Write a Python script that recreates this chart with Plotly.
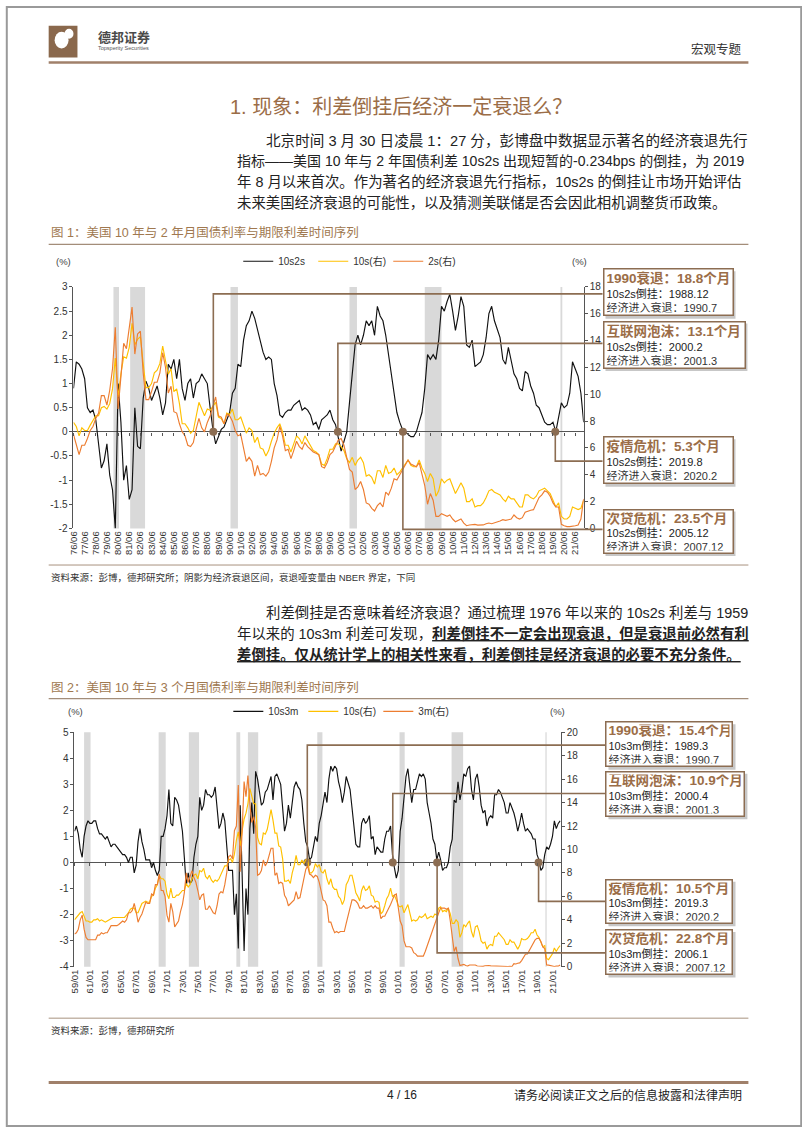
import plotly.graph_objects as go
import pandas as pd

# ---------------- DATA: chart 1 (quarterly, Jun-1976 .. Mar-2022) ----------------
c1_start = "1976-06-01"
c1_10s2s = [
    0.9, 1.45, 1.4,
    1.3, 1.1, 0.5, 0.4,
    0.45, 0.25, -0.2, -0.75,
    -0.6, -0.25, -0.9, -1.2,
    -2.0, 1.0, 0.2, -1.0,
    -0.7, -1.4, -1.2, 0.5,
    -0.3, -0.35, 0.7, 1.05,
    0.9, 0.65, 0.8, 0.95,
    0.7, 0.35, 0.6, 1.4,
    1.3, 1.5, 1.1, 1.5,
    0.9, 0.65, 1.0, 1.1,
    0.7, 1.0, 1.05, 1.2,
    1.1, 1.0, 0.5, 0.05,
    -0.25, -0.1, 0.05, 0.1,
    0.25, 0.4, 0.8, 0.9,
    1.4, 1.35, 1.9, 2.2,
    2.3, 2.5, 2.35, 2.1,
    1.9, 1.65, 1.5, 1.55,
    1.5, 1.0, 0.75, 0.35,
    0.3, 0.4, 0.45, 0.45,
    0.55, 0.6, 0.65, 0.45,
    0.5, 0.45, 0.35, 0.15,
    0.2, 0.05, 0.25, 0.3,
    0.35, 0.45, 0.25, 0.15,
    -0.15, -0.4, -0.2, 0.0,
    0.6, 1.2, 1.8, 2.0,
    1.8, 2.0, 2.3, 2.2,
    2.3, 2.0, 2.6, 2.4,
    2.3, 2.0, 1.6, 1.2,
    0.8, 0.4, 0.2, 0.05,
    0.0, -0.05, -0.1, -0.1,
    0.0, 0.2, 0.4, 0.9,
    1.6, 1.5, 1.6, 1.5,
    1.9, 2.6, 2.5, 2.7,
    2.85, 2.5, 2.1, 2.4,
    2.8, 2.6, 1.8, 1.75,
    1.9, 1.35, 1.4, 1.45,
    1.6, 1.95, 2.45, 2.6,
    2.3, 2.1, 1.95, 1.5,
    1.4, 1.75, 1.45, 1.2,
    1.1, 0.9, 0.85, 1.25,
    1.2, 0.95, 0.8, 0.55,
    0.5, 0.35, 0.2, 0.15,
    0.15, 0.2, 0.0, 0.3,
    0.6, 0.5, 0.55, 0.8,
    1.45, 1.3, 1.15, 0.8,
    0.2,
]
c1_10s = [
    7.9, 7.6, 6.9,
    7.5, 7.3, 7.3, 7.7,
    8.1, 8.4, 8.4, 9.0,
    9.1, 8.9, 9.3, 10.4,
    12.7, 9.8, 11.5, 12.8,
    12.7, 13.5, 15.3, 13.7,
    14.1, 14.3, 12.3, 10.5,
    10.5, 10.8, 11.6, 11.8,
    12.3, 13.6, 12.5, 11.5,
    11.9, 10.2, 10.4, 9.3,
    7.8, 7.8, 7.5, 7.1,
    7.3, 8.4, 9.4, 8.9,
    8.4, 8.9, 8.8, 9.1,
    9.4, 8.3, 8.2, 7.8,
    8.6, 8.5, 8.9, 8.1,
    8.1, 8.3, 7.7, 7.1,
    7.5, 7.3, 6.4, 6.8,
    6.0, 5.9, 5.4, 5.8,
    6.5, 7.1, 7.5, 7.8,
    7.2, 6.2, 6.2, 5.7,
    6.3, 6.9, 6.7, 6.3,
    6.9, 6.5, 6.2, 5.8,
    5.7, 5.5, 4.8, 4.7,
    5.2, 5.9, 5.9, 6.3,
    6.3, 6.1, 5.8, 5.2,
    4.9, 5.3, 4.7, 5.1,
    5.3, 4.9, 3.9, 4.0,
    3.8, 3.3, 4.3, 4.3,
    3.8, 4.7, 4.1, 4.2,
    4.5, 4.0, 4.2, 4.5,
    4.7, 5.1, 4.7, 4.6,
    4.6, 5.1, 4.5, 4.1,
    3.5, 4.1, 3.7, 2.4,
    2.8, 3.7, 3.4, 3.6,
    3.7, 3.2, 2.6, 3.0,
    3.4, 3.0, 2.0, 2.0,
    2.2, 1.6, 1.7, 1.7,
    1.9, 2.3, 2.8, 2.9,
    2.7, 2.6, 2.5, 2.2,
    2.0, 2.4, 2.2, 2.2,
    1.9, 1.6, 1.6, 2.5,
    2.5, 2.3, 2.2, 2.4,
    2.8, 2.9, 3.0, 2.8,
    2.6, 2.1, 1.6, 1.9,
    0.9, 0.7, 0.7, 0.9,
    1.6, 1.5, 1.4, 1.5,
    2.1,
]
c1_2s = [
    7.0, 6.2, 5.5,
    6.2, 6.2, 6.7, 7.3,
    7.6, 8.2, 8.6, 9.9,
    9.9, 9.2, 10.3, 11.9,
    15.0, 8.9, 11.3, 13.8,
    13.4, 15.0, 16.5, 13.0,
    14.5, 14.7, 11.6, 9.6,
    9.6, 10.2, 10.9, 10.9,
    11.6, 13.1, 12.0, 10.1,
    10.6, 8.7, 8.6, 7.8,
    7.2, 6.9, 6.2, 6.1,
    6.4, 7.4, 8.2, 7.5,
    7.2, 7.9, 8.4, 9.1,
    9.8, 8.4, 8.3, 7.8,
    8.5, 8.4, 8.0, 7.3,
    6.9, 7.0, 6.0, 5.0,
    5.3, 5.0, 3.9, 4.7,
    4.0, 4.1, 3.9, 4.2,
    5.0, 6.0, 6.6, 7.6,
    6.9, 5.8, 5.9, 5.2,
    5.8, 6.5, 6.1, 5.9,
    6.4, 6.1, 5.9, 5.7,
    5.6, 5.5, 4.6, 4.5,
    4.9, 5.5, 5.7, 6.2,
    6.6, 6.7, 6.2, 5.3,
    4.4, 4.2, 2.9, 3.1,
    3.5, 2.9, 1.9, 1.8,
    1.5, 1.3, 1.7, 1.9,
    1.6, 2.7, 2.5, 3.0,
    3.7, 3.6, 4.0, 4.4,
    4.7, 5.1, 4.8, 4.7,
    4.6, 4.9, 4.1, 3.2,
    1.8, 2.6, 2.1, 0.9,
    0.9, 1.1, 1.0, 0.9,
    1.0, 0.7, 0.5, 0.6,
    0.7, 0.4, 0.2, 0.25,
    0.3, 0.3, 0.25, 0.26,
    0.26, 0.35, 0.4, 0.35,
    0.4, 0.45, 0.55, 0.65,
    0.6, 0.65, 0.7, 1.0,
    0.8, 0.7, 0.8, 1.2,
    1.3, 1.35, 1.4, 1.8,
    2.3, 2.5, 2.8, 2.7,
    2.4, 1.9, 1.6, 1.6,
    0.3, 0.2, 0.13, 0.13,
    0.15, 0.2, 0.25, 0.7,
    2.2,
]
c1_recessions = [("1980-01-01", "1980-07-01"), ("1981-07-01", "1982-11-01"),
                 ("1990-07-01", "1991-03-01"), ("2001-03-01", "2001-11-01"),
                 ("2007-12-01", "2009-06-01"), ("2020-02-01", "2020-04-01")]
c1_tick_vals = [f"{y}-06-01" for y in range(1976, 2022)]
c1_tick_text = [f"{y % 100:02d}/06" for y in range(1976, 2022)]
c1_events = ["1990衰退", "互联网泡沫", "疫情危机", "次贷危机"]
c1_lead_months = ["18.8", "13.1", "5.3", "23.5"]
c1_invert_dates = ["1988-12-15", "2000-02-15", "2019-08-15", "2005-12-15"]
c1_invert_labels = ["1988.12", "2000.2", "2019.8", "2005.12"]
c1_recess_labels = ["1990.7", "2001.3", "2020.2", "2007.12"]

# ---------------- DATA: chart 2 (quarterly, Jan-1959 .. Jan-2022) ----------------
c2_start = "1959-01-01"
c2_10s3m = [
    1.2, 1.4, 1.1, 0.5,
    0.2, 1.0, 1.4, 1.6,
    1.5, 1.5, 1.6, 1.6,
    1.3, 1.1, 1.1, 1.0,
    0.9, 1.0, 0.8, 0.6,
    0.7, 0.7, 0.6, 0.5,
    0.4, 0.3, 0.3, 0.2,
    0.0, 0.2, 0.2, -0.4,
    -0.1, 0.8, 1.3, 0.8,
    0.5, 0.1, 0.1, 0.1,
    -0.2, 0.0, -0.3, -0.5,
    -0.3, 1.0, 1.0, 1.3,
    1.8, 2.8, 1.5, 1.4,
    2.5, 2.4, 2.2, 1.6,
    1.2, 0.2, -0.9, -0.4,
    -0.8, -0.7, 0.2, 0.7,
    1.0, 2.5, 2.0, 2.2,
    2.8, 2.6, 2.6, 2.5,
    2.6, 2.9, 2.1, 1.3,
    1.5, 1.9, 1.6, 0.6,
    -0.3, -0.3, -0.3, -2.0,
    -1.2, -3.3, 2.2, -0.5,
    -3.4, -1.0, -2.0, 1.3,
    2.3, 1.1, 3.5, 3.2,
    2.6, 2.2, 2.3, 2.7,
    2.8, 3.1, 3.3, 2.4,
    3.3, 3.4, 3.2, 3.0,
    2.1, 1.2, 1.5, 2.2,
    1.7, 2.4, 2.9, 3.1,
    2.9, 2.8, 2.4, 1.5,
    0.8, 0.6, 0.1, 0.2,
    0.6, 1.0, 0.8, 1.5,
    1.8, 2.3, 2.7, 2.3,
    3.2, 3.7, 3.5, 3.7,
    3.6, 3.1, 2.8, 2.3,
    2.7, 3.3, 3.0, 2.8,
    2.1, 1.4, 0.7, 0.6,
    0.6, 1.5, 1.7, 1.5,
    1.6, 1.8, 0.9, 1.0,
    0.3, 0.6, 0.5, 0.4,
    0.4, 0.9, 1.2, 1.2,
    1.4, 0.3, -0.2, -0.6,
    -0.3, 1.2, 1.7, 2.4,
    3.3, 3.6, 2.9, 2.3,
    2.8, 2.8, 3.1, 3.4,
    3.3, 3.4, 3.2, 2.3,
    1.9, 1.5, 0.9, 0.7,
    0.1, 0.4, 0.1, -0.3,
    -0.2, -0.2, 0.0, 0.6,
    0.9, 2.4, 2.3, 3.1,
    2.4, 2.8, 3.4, 3.3,
    3.6, 3.7, 2.8, 2.4,
    3.2, 3.4, 2.9, 2.2,
    1.9, 2.0, 1.4, 1.7,
    1.8, 1.7, 2.6, 2.6,
    2.8, 2.7, 2.5, 2.3,
    1.9, 1.9, 2.3, 2.1,
    1.9, 1.6, 1.2, 1.5,
    1.9, 1.5, 1.2, 1.3,
    1.2, 1.1, 0.9, 0.9,
    0.3, 0.1, -0.3, -0.2,
    0.3, 0.6, 0.5, 0.7,
    1.0, 1.6, 1.3, 1.5,
    1.6,
]
c2_10s = [
    4.0, 4.2, 4.4, 4.6,
    4.7, 4.3, 3.9, 3.9,
    3.8, 3.8, 4.0, 4.0,
    4.1, 3.9, 4.0, 3.9,
    3.8, 3.9, 4.0, 4.1,
    4.2, 4.2, 4.2, 4.2,
    4.2, 4.2, 4.2, 4.4,
    4.6, 4.9, 5.0, 5.0,
    4.6, 4.6, 5.0, 5.4,
    5.5, 5.6, 5.5, 5.5,
    6.0, 6.1, 6.7, 7.0,
    7.8, 7.5, 7.5, 7.3,
    6.2, 5.8, 6.7, 5.9,
    5.9, 6.1, 6.1, 6.3,
    6.5, 6.5, 7.1, 6.8,
    7.0, 7.5, 7.8, 7.9,
    7.5, 8.2, 8.1, 8.4,
    7.7, 7.5, 7.8, 7.4,
    7.2, 7.4, 7.3, 7.5,
    7.9, 8.2, 8.6, 8.6,
    9.1, 9.2, 8.9, 9.6,
    10.8, 11.5, 10.3, 11.6,
    12.6, 13.1, 13.9, 15.2,
    14.6, 13.9, 13.9, 11.0,
    10.5, 10.4, 11.4, 11.3,
    11.7, 12.6, 13.4, 12.5,
    11.4, 11.4, 10.3, 10.2,
    9.2, 7.3, 7.3, 7.4,
    7.1, 8.0, 8.6, 9.5,
    8.7, 8.7, 9.1, 8.8,
    9.1, 9.2, 8.0, 8.0,
    8.2, 8.8, 8.5, 8.7,
    8.1, 8.0, 8.3, 7.5,
    7.0, 7.5, 6.8, 6.6,
    6.6, 6.0, 5.8, 5.3,
    5.7, 7.0, 7.3, 7.8,
    7.8, 7.1, 6.3, 6.0,
    5.6, 6.5, 6.9, 6.5,
    6.6, 6.9, 6.1, 6.0,
    5.5, 5.6, 5.5, 4.5,
    4.7, 5.2, 5.8, 6.1,
    6.7, 6.0, 6.1, 5.7,
    5.2, 5.1, 5.2, 4.6,
    5.0, 5.3, 4.6, 3.9,
    4.0, 3.9, 4.0, 4.3,
    4.2, 4.3, 4.5, 4.1,
    4.2, 4.3, 4.2, 4.5,
    4.4, 5.0, 5.1, 4.7,
    4.8, 4.7, 5.0, 4.5,
    3.7, 3.7, 4.0, 3.8,
    2.5, 2.9, 3.6, 3.4,
    3.7, 3.9, 3.0, 2.5,
    3.4, 3.5, 3.0, 2.2,
    2.0, 2.1, 1.5, 1.8,
    1.9, 1.8, 2.6, 2.6,
    2.9, 2.7, 2.6, 2.3,
    1.9, 1.9, 2.3, 2.1,
    2.1, 1.8, 1.5, 1.8,
    2.4, 2.3, 2.3, 2.4,
    2.6, 2.9, 2.9, 3.2,
    2.7, 2.5, 2.1, 1.7,
    1.8, 0.7, 0.6, 0.8,
    1.1, 1.6, 1.3, 1.6,
    1.8,
]
c2_3m = [
    2.8, 2.9, 3.2, 4.0,
    4.4, 3.2, 2.5, 2.3,
    2.3, 2.3, 2.3, 2.3,
    2.7, 2.7, 2.9, 2.8,
    2.9, 2.9, 3.2, 3.5,
    3.5, 3.5, 3.5, 3.6,
    3.8, 3.9, 3.8, 4.0,
    4.6, 4.6, 4.8, 5.4,
    4.7, 3.8, 4.2, 4.5,
    5.0, 5.5, 5.4, 5.4,
    6.2, 6.1, 7.0, 7.0,
    7.9, 6.5, 6.5, 6.0,
    4.4, 3.8, 5.4, 4.7,
    3.4, 3.7, 3.9, 4.7,
    5.3, 6.3, 8.0, 7.2,
    7.8, 8.2, 7.6, 7.2,
    6.5, 5.7, 6.1, 6.2,
    4.9, 4.9, 5.2, 4.9,
    4.6, 4.5, 5.2, 6.2,
    6.4, 6.3, 7.0, 8.0,
    9.4, 9.5, 9.2, 11.6,
    12.0, 15.5, 8.1, 11.6,
    15.8, 14.5, 16.3, 13.9,
    12.3, 12.8, 11.9, 7.8,
    7.9, 8.2, 9.1, 8.6,
    8.9, 9.5, 10.1, 10.1,
    7.8, 8.0, 7.1, 7.2,
    7.1, 6.1, 5.8, 5.2,
    5.4, 5.6, 5.7, 6.4,
    5.8, 5.9, 6.7, 7.3,
    8.3, 8.6, 7.9, 7.8,
    7.6, 7.8, 7.7, 7.2,
    6.3, 5.7, 5.6, 5.2,
    3.8, 3.8, 3.3, 2.9,
    3.0, 2.9, 3.0, 3.0,
    3.0, 3.7, 4.3, 5.0,
    5.7, 5.7, 5.6, 5.4,
    5.0, 5.0, 5.2, 5.0,
    5.0, 5.1, 5.2, 5.0,
    5.2, 5.0, 5.0, 4.1,
    4.3, 4.3, 4.6, 4.9,
    5.3, 5.7, 6.1, 6.2,
    5.2, 3.9, 3.5, 2.2,
    1.7, 1.7, 1.7, 1.6,
    1.2, 1.1, 0.9, 0.9,
    0.9, 0.9, 1.3, 1.8,
    2.3, 2.8, 3.3, 3.8,
    4.3, 4.6, 5.0, 5.0,
    5.0, 4.9, 5.0, 3.9,
    2.8, 1.3, 1.7, 0.7,
    0.1, 0.15, 0.2, 0.1,
    0.06, 0.15, 0.16, 0.14,
    0.15, 0.06, 0.05, 0.02,
    0.03, 0.08, 0.1, 0.1,
    0.07, 0.06, 0.04, 0.05,
    0.04, 0.03, 0.03, 0.02,
    0.03, 0.02, 0.03, 0.02,
    0.26, 0.23, 0.3, 0.33,
    0.52, 0.8, 1.07, 1.09,
    1.41, 1.76, 1.96, 2.29,
    2.42, 2.43, 2.15, 1.69,
    1.55, 0.14, 0.13, 0.09,
    0.08, 0.02, 0.05, 0.05,
    0.15,
]
c2_recessions = [("1960-04-01", "1961-02-01"), ("1969-12-01", "1970-11-01"),
                 ("1973-11-01", "1975-03-01"), ("1980-01-01", "1980-07-01"),
                 ("1981-07-01", "1982-11-01"), ("1990-07-01", "1991-03-01"),
                 ("2001-03-01", "2001-11-01"), ("2007-12-01", "2009-06-01"),
                 ("2020-02-01", "2020-04-01")]
c2_tick_vals = [f"{y}-01-01" for y in range(1959, 2022, 2)]
c2_tick_text = [f"{y % 100:02d}/01" for y in range(1959, 2022, 2)]
c2_events = ["1990衰退", "互联网泡沫", "疫情危机", "次贷危机"]
c2_lead_months = ["15.4", "10.9", "10.5", "22.8"]
c2_invert_dates = ["1989-03-15", "2000-04-15", "2019-03-15", "2006-01-15"]
c2_invert_labels = ["1989.3", "2000.4", "2019.3", "2006.1"]
c2_recess_labels = ["1990.7", "2001.3", "2020.2", "2007.12"]

# ---------------- STYLE / LAYOUT ----------------
W, H = 802, 1133
OX = -4
FONT = "Liberation Sans, Noto Sans CJK SC, sans-serif"
CJK = "Noto Sans CJK SC, sans-serif"
BROWN = "#9b6d47"
LINEBROWN = "#8c6d52"
BLACK = "#111111"
YELLOW = "#ffc000"
ORANGE = "#ed7d31"
GREY = "#d9d9d9"


def px(x):
    return (x + OX) / W


def py(y):
    return 1 - y / H


def yfrac(t):
    t = pd.Timestamp(t)
    return t.year + (t.dayofyear - 1) / 365.25


def date_to_px(d, rng, dom_px):
    a, b = yfrac(rng[0]), yfrac(rng[1])
    return dom_px[0] + (yfrac(d) - a) / (b - a) * (dom_px[1] - dom_px[0])


c1_dates = pd.date_range(c1_start, periods=len(c1_10s), freq="3MS")
c2_dates = pd.date_range(c2_start, periods=len(c2_10s), freq="3MS")

# chart geometry (pixels)
C1_X = (72, 586)
C1_Y = (284, 528)          # top, bottom
C1_RANGE = ["1976-06-01", "2022-03-01"]
C2_X = (73, 563)
C2_Y = (734, 971)
C2_RANGE = ["1959-01-01", "2022-02-01"]

fig = go.Figure()
LW = 1.15

# chart 1 traces
fig.add_trace(go.Scatter(x=c1_dates, y=c1_10s2s, name="10s2s", mode="lines",
                         line=dict(color=BLACK, width=LW), xaxis="x", yaxis="y", legend="legend"))
fig.add_trace(go.Scatter(x=c1_dates, y=c1_10s, name="10s(右)", mode="lines",
                         line=dict(color=YELLOW, width=LW), xaxis="x", yaxis="y2", legend="legend"))
fig.add_trace(go.Scatter(x=c1_dates, y=c1_2s, name="2s(右)", mode="lines",
                         line=dict(color=ORANGE, width=LW), xaxis="x", yaxis="y2", legend="legend"))
fig.add_trace(go.Scatter(x=[c1_dates[0]], y=[0], mode="markers", marker=dict(opacity=0),
                         showlegend=False, hoverinfo="skip", xaxis="x3", yaxis="y"))
fig.add_trace(go.Scatter(x=pd.to_datetime(c1_invert_dates), y=[0] * len(c1_invert_dates), mode="markers",
                         marker=dict(color=LINEBROWN, size=8), showlegend=False, cliponaxis=False,
                         xaxis="x", yaxis="y"))

# chart 2 traces
fig.add_trace(go.Scatter(x=c2_dates, y=c2_10s3m, name="10s3m", mode="lines",
                         line=dict(color=BLACK, width=LW), xaxis="x2", yaxis="y3", legend="legend2"))
fig.add_trace(go.Scatter(x=c2_dates, y=c2_10s, name="10s(右)", mode="lines",
                         line=dict(color=YELLOW, width=LW), xaxis="x2", yaxis="y4", legend="legend2"))
fig.add_trace(go.Scatter(x=c2_dates, y=c2_3m, name="3m(右)", mode="lines",
                         line=dict(color=ORANGE, width=LW), xaxis="x2", yaxis="y4", legend="legend2"))
fig.add_trace(go.Scatter(x=[c2_dates[0]], y=[0], mode="markers", marker=dict(opacity=0),
                         showlegend=False, hoverinfo="skip", xaxis="x4", yaxis="y3"))
fig.add_trace(go.Scatter(x=pd.to_datetime(c2_invert_dates), y=[0] * len(c2_invert_dates), mode="markers",
                         marker=dict(color=LINEBROWN, size=8), showlegend=False, cliponaxis=False,
                         xaxis="x2", yaxis="y3"))

tickfont = dict(family=FONT, size=10, color="#333")
c1_left = [-2, -1.5, -1, -0.5, 0, 0.5, 1, 1.5, 2, 2.5, 3]
c1_right = list(range(0, 19, 2))
c2_left = list(range(-4, 6))
c2_right = list(range(0, 21, 2))

c1_dom_y = [py(C1_Y[1]), py(C1_Y[0])]
c2_dom_y = [py(C2_Y[1]), py(C2_Y[0])]
c1_zero_pos = c1_dom_y[0] + (0 - c1_left[0]) / (c1_left[-1] - c1_left[0]) * (c1_dom_y[1] - c1_dom_y[0])
c2_zero_pos = c2_dom_y[0] + (0 - c2_left[0]) / (c2_left[-1] - c2_left[0]) * (c2_dom_y[1] - c2_dom_y[0])

axis_common = dict(showgrid=False, ticks="outside", ticklen=3, tickcolor="#555",
                   linecolor="#555", linewidth=1, tickfont=tickfont)
legend_common = dict(orientation="h", xanchor="left", yanchor="middle",
                     font=dict(family=FONT, size=10, color="#333"), bgcolor="rgba(0,0,0,0)",
                     itemwidth=30, entrywidth=30, entrywidthmode="pixels")

fig.update_layout(
    xaxis=dict(domain=[px(C1_X[0]), px(C1_X[1])], range=C1_RANGE, anchor="y", showgrid=False,
               showline=False, ticks="", tickvals=c1_tick_vals, ticktext=c1_tick_text, tickangle=-90,
               tickfont=dict(family=FONT, size=9.5, color="#333"), zeroline=False),
    yaxis=dict(domain=c1_dom_y, range=[c1_left[0], c1_left[-1]], tickvals=c1_left,
               ticktext=[f"{v:g}" for v in c1_left], showline=True, zeroline=True,
               zerolinecolor="#555", zerolinewidth=1, anchor="x", **axis_common),
    yaxis2=dict(range=[c1_right[0], c1_right[-1]], tickvals=c1_right, overlaying="y", side="right",
                anchor="x", showline=True, zeroline=False, **axis_common),
    xaxis3=dict(overlaying="x", anchor="free", position=c1_zero_pos, range=C1_RANGE, tickvals=c1_tick_vals,
                ticks="outside", ticklen=3, tickcolor="#555", showticklabels=False, showline=False,
                showgrid=False, zeroline=False),
    xaxis2=dict(domain=[px(C2_X[0]), px(C2_X[1])], range=C2_RANGE, anchor="y3", showgrid=False,
                showline=False, ticks="", tickvals=c2_tick_vals, ticktext=c2_tick_text, tickangle=-90,
                tickfont=dict(family=FONT, size=9.5, color="#333"), zeroline=False),
    yaxis3=dict(domain=c2_dom_y, range=[c2_left[0], c2_left[-1]], tickvals=c2_left,
                ticktext=[f"{v:g}" for v in c2_left], showline=True, zeroline=True,
                zerolinecolor="#555", zerolinewidth=1, anchor="x2", **axis_common),
    yaxis4=dict(range=[c2_right[0], c2_right[-1]], tickvals=c2_right, overlaying="y3", side="right",
                anchor="x2", showline=True, zeroline=False, **axis_common),
    xaxis4=dict(overlaying="x2", anchor="free", position=c2_zero_pos, range=C2_RANGE, tickvals=c2_tick_vals,
                ticks="outside", ticklen=3, tickcolor="#555", showticklabels=False, showline=False,
                showgrid=False, zeroline=False),
    legend=dict(x=px(238), y=py(258), **legend_common),
    legend2=dict(x=px(228), y=py(713), **legend_common),
    width=W, height=H, autosize=False, margin=dict(l=0, r=0, t=0, b=0),
    paper_bgcolor="white", plot_bgcolor="white", showlegend=True,
)

shapes = []
annotations = []

# recession shading
for a, b in c1_recessions:
    shapes.append(dict(type="rect", xref="x", yref="y domain", x0=a, x1=b, y0=0, y1=1,
                       fillcolor=GREY, line=dict(width=0), layer="below"))
for a, b in c2_recessions:
    shapes.append(dict(type="rect", xref="x2", yref="y3 domain", x0=a, x1=b, y0=0, y1=1,
                       fillcolor=GREY, line=dict(width=0), layer="below"))


def hline(x0, x1, y, color, width):
    shapes.append(dict(type="line", xref="paper", yref="paper", x0=px(x0), x1=px(x1),
                       y0=py(y), y1=py(y), line=dict(color=color, width=width)))


def txt(x, y, s, size=12, color="#222", anchor="left", family=FONT):
    annotations.append(dict(x=px(x), y=py(y), xref="paper", yref="paper", text=s, showarrow=False,
                            xanchor=anchor, yanchor="middle", font=dict(size=size, color=color, family=family)))


# page frame
shapes.append(dict(type="rect", xref="paper", yref="paper", x0=0.001, x1=0.999, y0=0.001, y1=0.999,
                   line=dict(color="#9a9a9a", width=2)))

# header
shapes.append(dict(type="rect", xref="paper", yref="paper", x0=px(47), x1=px(76), y0=py(52), y1=py(20),
                   fillcolor="#8a684c", line=dict(width=0)))
shapes.append(dict(type="circle", xref="paper", yref="paper", x0=px(53), x1=px(67), y0=py(43), y1=py(26),
                   fillcolor="white", line=dict(width=0)))
shapes.append(dict(type="circle", xref="paper", yref="paper", x0=px(63), x1=px(72), y0=py(33), y1=py(23),
                   fillcolor="white", line=dict(width=0)))
txt(95, 31, "<b>德邦证券</b>", 13, "#4a4a4a", family=CJK)
txt(95, 42, "Topsperity Securities", 5.5, "#555")
txt(748, 43, "宏观专题", 12.5, "#333", anchor="right", family=CJK)
hline(47, 752, 57, "#a0806a", 2.5)

# section title
txt(402, 102, "1. 现象：利差倒挂后经济一定衰退么？", 20, BROWN, anchor="center")

# paragraph 1
para1 = [
    (264, 14.6, "北京时间 3 月 30 日凌晨 1：27 分，彭博盘中数据显示著名的经济衰退先行"),
    (235, 14.0, "指标——美国 10 年与 2 年国债利差 10s2s 出现短暂的-0.234bps 的倒挂，为 2019"),
    (235, 14.4, "年 8 月以来首次。作为著名的经济衰退先行指标，10s2s 的倒挂让市场开始评估"),
    (235, 14.4, "未来美国经济衰退的可能性，以及猜测美联储是否会因此相机调整货币政策。"),
]
for i, (x, sz, s) in enumerate(para1):
    txt(x, 136 + i * 21, s, sz, "#222")

# figure 1 title
txt(47, 229, "图 1：美国 10 年与 2 年月国债利率与期限利差时间序列", 12.5, "#a0784f")
hline(47, 752, 241, "#a38d79", 1.3)
txt(62, 258, "(%)", 9.5, "#444", anchor="center")
txt(582, 258, "(%)", 9.5, "#444", anchor="center")
hline(47, 752, 565, "#a8927f", 1)
txt(47, 578, "资料来源：彭博，德邦研究所；阴影为经济衰退区间，衰退哑变量由 NBER 界定，下同", 9.5, "#333")

# paragraph 2
txt(264, 613, "利差倒挂是否意味着经济衰退？通过梳理 1976 年以来的 10s2s 利差与 1959", 14.4, "#222")
txt(235, 634, "年以来的 10s3m 利差可发现，<b><u>利差倒挂不一定会出现衰退，但是衰退前必然有利</u></b>", 14.4, "#222")
txt(235, 655, "<b><u>差倒挂。仅从统计学上的相关性来看，利差倒挂是经济衰退的必要不充分条件。</u></b>", 14.4, "#222")

# figure 2 title
txt(47, 689, "图 2：美国 10 年与 3 个月国债利率与期限利差时间序列", 12.5, "#a0784f")
hline(47, 752, 700, "#a38d79", 1.3)
txt(74, 713, "(%)", 9.5, "#444", anchor="center")
txt(560, 713, "(%)", 9.5, "#444", anchor="center")
hline(47, 752, 1023, "#a8927f", 1)
txt(47, 1035, "资料来源：彭博，德邦研究所", 9.5, "#333")

# footer
hline(47, 752, 1088, "#a0806a", 3)
txt(403, 1101, "4 / 16", 12, "#222", anchor="center")
txt(514, 1101, "请务必阅读正文之后的信息披露和法律声明", 12, "#222")

# connectors + boxes
c1_conn_y = [291, 341, 460, 529]
c1_boxes = [(605, 265, 736, 313), (605, 318, 748, 366), (605, 435, 736, 483), (605, 508, 736, 553)]
c2_conn_y = [747, 796, 905, 957]
c2_boxes = [(608, 723, 736, 769), (608, 773, 748, 819), (608, 882, 736, 927), (608, 933, 736, 979)]


def draw_group(dates, conn_y, boxes, rng, dom_px, zero_pos, events, months, inv_lbl, rec_lbl, tag):
    zero_px = (1 - zero_pos) * H
    for d, cy, (bx0, by0, bx1, by1), ev, mo, il, rl in zip(dates, conn_y, boxes, events, months, inv_lbl, rec_lbl):
        xd = date_to_px(d, rng, dom_px)
        shapes.append(dict(type="path", xref="paper", yref="paper",
                           path=f"M {px(xd)},{py(zero_px)} L {px(xd)},{py(cy)} L {px(bx0)},{py(cy)}",
                           line=dict(color=LINEBROWN, width=1.6), layer="above"))
        shapes.append(dict(type="rect", xref="paper", yref="paper", x0=px(bx0 + 3), x1=px(bx1 + 3),
                           y0=py(by1 + 3), y1=py(by0 + 3), fillcolor="rgba(0,0,0,0.22)",
                           line=dict(width=0), layer="above"))
        pad = 2
        bw = 1.5
        text = (f"<span style='font-size:13.5px;color:{BROWN}'><b>{ev}：{mo}个月</b></span><br>"
                f"<span style='color:#222'>{tag}倒挂：{il}</span><br>"
                f"<span style='color:#333'>经济进入衰退：{rl}</span>")
        annotations.append(dict(x=px(bx0), y=py(by0), xref="paper", yref="paper", text=text,
                                showarrow=False, xanchor="left", yanchor="top", align="left", valign="middle",
                                width=(bx1 - bx0) - 2 * pad - 2 * bw, height=(by1 - by0) - 2 * pad - 2 * bw,
                                bgcolor="white", bordercolor=LINEBROWN, borderwidth=bw, borderpad=pad,
                                font=dict(family=FONT, size=11, color="#222")))


draw_group(c1_invert_dates, c1_conn_y, c1_boxes, C1_RANGE, C1_X, c1_zero_pos,
           c1_events, c1_lead_months, c1_invert_labels, c1_recess_labels, "10s2s")
draw_group(c2_invert_dates, c2_conn_y, c2_boxes, C2_RANGE, C2_X, c2_zero_pos,
           c2_events, c2_lead_months, c2_invert_labels, c2_recess_labels, "10s3m")

fig.update_layout(shapes=shapes, annotations=annotations)
fig.write_html("out.html", config={"displayModeBar": False},
               post_script="document.body.style.margin='0';document.body.style.overflow='hidden';")
